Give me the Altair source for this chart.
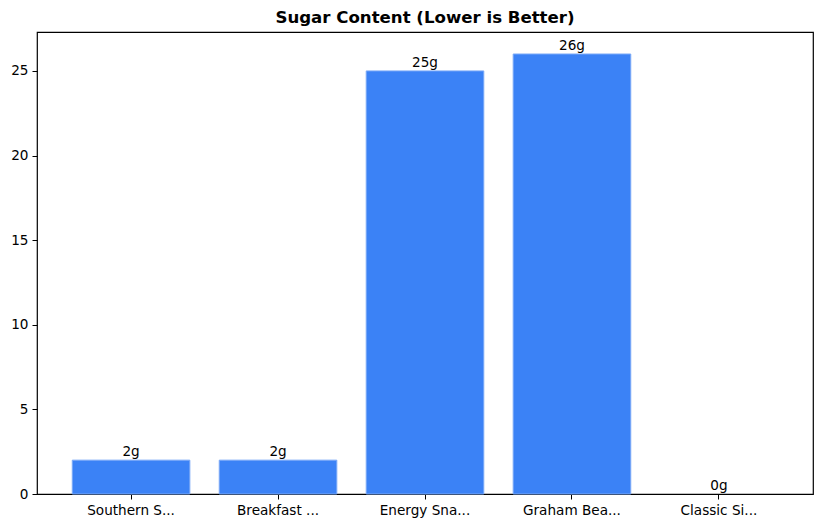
import altair as alt
import pandas as pd

categories = ["Southern S...", "Breakfast ...", "Energy Sna...", "Graham Bea...", "Classic Si..."]
sugar = [2, 2, 25, 26, 0]
labels = [f"{v}g" for v in sugar]

df = pd.DataFrame({"cat": categories, "sugar": sugar, "label": labels})

FONT = "DejaVu Sans"
FS = 13.6

x = alt.X("cat:N", sort=categories, title=None,
          scale=alt.Scale(paddingInner=0.2, paddingOuter=0.24),
          axis=alt.Axis(labelAngle=0, labelFontSize=FS, labelColor="black",
                        tickColor="black", tickSize=5, labelPadding=4,
                        domain=False, labelFont=FONT))
y = alt.Y("sugar:Q", title=None,
          scale=alt.Scale(domain=[0, 27.3], nice=False),
          axis=alt.Axis(values=[0, 5, 10, 15, 20, 25], grid=False,
                        labelFontSize=FS, labelColor="black", tickColor="black",
                        tickSize=5, labelPadding=4, domain=False, labelFont=FONT))

bars = alt.Chart(df).mark_bar(color="#3b82f6", stroke="#7aa9f7", strokeWidth=1).encode(
    x=x, y=y,
    strokeOpacity=alt.condition("datum.sugar > 0", alt.value(1), alt.value(0)))
text = alt.Chart(df).mark_text(baseline="bottom", dy=-1, fontSize=FS, font=FONT,
                               color="black").encode(
    x=alt.X("cat:N", sort=categories), y="sugar:Q", text="label:N")

chart = (bars + text).properties(
    width=776, height=462,
    background="white",
    title=alt.TitleParams("Sugar Content (Lower is Better)", fontSize=16.6,
                          fontWeight="bold", font=FONT, color="black",
                          anchor="middle", offset=5),
    autosize=alt.AutoSizeParams(type="none"),
    padding={"left": 29, "top": 24, "right": 1, "bottom": 26},
).configure_view(stroke="black", strokeWidth=1.2)

chart.save("out.html", embed_options={"renderer": "svg", "actions": False})
